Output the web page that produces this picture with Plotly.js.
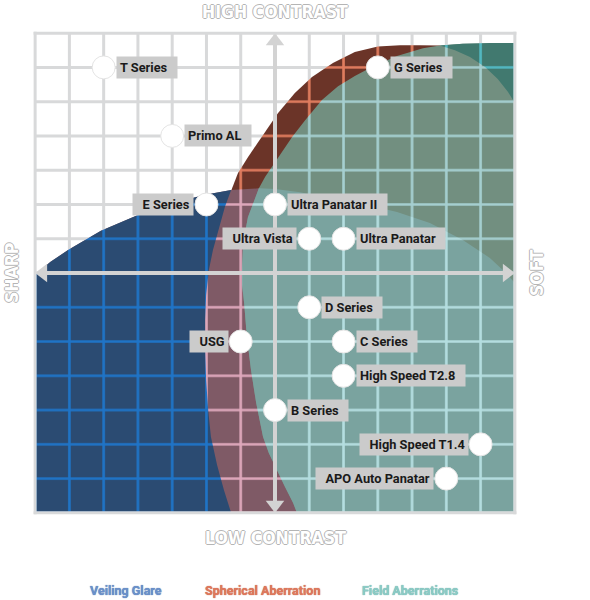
<!DOCTYPE html>
<html><head><meta charset="utf-8">
<script src="https://cdn.plot.ly/plotly-3.0.1.min.js"></script>
<style>html,body{margin:0;padding:0;background:#fff}#chart{width:590px;height:600px}</style>
</head><body><div id="chart"></div>
<script>
// ---- grid (units = grid cells, centre of chart at 0,0) ----
const gridLimit = 7;

// ---- lens positions ----
const lensNames = ['T Series','Primo AL','G Series','E Series','Ultra Panatar II','Ultra Vista','Ultra Panatar','D Series','USG','C Series','High Speed T2.8','B Series','High Speed T1.4','APO Auto Panatar'];
const lensX     = [-5, -3, 3, -2, 0, 1, 2, 1, -1, 2, 2, 0, 6, 5];
const lensY     = [ 6,  4, 6,  2, 2, 1, 1, -1, -2, -2, -3, -4, -5, -6];
const lensSide  = ['right','right','right','left','right','left','right','right','left','right','right','right','left','left'];

// ---- region outlines (grid units) ----
// Veiling Glare: upper edge, left border to right border
const veilingTopX = [-7, -6.56, -6.04, -5.08, -4.0, -2.98, -2.04, -1.28, -0.47, 0, 0.73, 1.69, 2.57, 3.56, 4.52, 5.48, 6.27, 6.71, 7];
const veilingTopY = [-0.06, 0.32, 0.67, 1.23, 1.69, 2.04, 2.28, 2.42, 2.47, 2.45, 2.36, 2.16, 2.01, 1.78, 1.46, 0.96, 0.44, 0.03, -0.29];
// Spherical Aberration: edge from bottom border, up the left, over the top, to right border
const sphericalX = [-1.28, -1.49, -1.69, -1.87, -1.95, -2.01, -2.04, -2.04, -2.01, -1.93, -1.81, -1.66, -1.46, -1.28, -1.08, -0.79, -0.38, 0.09, 0.58, 1.08, 1.69, 2.33, 3.0, 3.65, 4.23, 4.81, 5.25, 5.69, 6.13, 6.5, 6.8, 7];
const sphericalY = [-7, -6.33, -5.6, -4.78, -4.0, -3.12, -2.25, -1.37, -0.64, 0.09, 0.67, 1.25, 1.93, 2.42, 2.92, 3.38, 3.97, 4.67, 5.25, 5.72, 6.13, 6.45, 6.61, 6.65, 6.65, 6.64, 6.5, 6.3, 6.01, 5.66, 5.28, 4.96];
// Field Aberrations: edge from bottom border, up the left, to right border at the top
const fieldX = [0.64, 0.53, 0.29, 0.06, -0.18, -0.35, -0.55, -0.7, -0.82, -0.9, -0.96, -0.96, -0.93, -0.79, -0.58, -0.47, -0.29, 0.09, 0.5, 0.88, 1.37, 1.84, 2.33, 2.77, 3.56, 4.32, 4.81, 5.48, 6.27, 7];
const fieldY = [-7, -6.71, -6.24, -5.75, -5.25, -4.78, -3.79, -2.83, -1.87, -0.88, -0.35, 0.09, 0.88, 1.63, 2.22, 2.47, 2.8, 3.38, 3.97, 4.46, 5.05, 5.45, 5.75, 5.98, 6.33, 6.56, 6.64, 6.69, 6.71, 6.71];

// ---- legend / axis words ----
const legendNames  = ['Veiling Glare', 'Spherical Aberration', 'Field Aberrations'];
const legendColors = ['#6b91cb', '#e0785c', '#8ccbc6'];
const legendShadow = ['#3d66a3', '#b04a30', '#4f9a95'];
const axisWords = ['HIGH CONTRAST', 'LOW CONTRAST', 'SHARP', 'SOFT'];

// ---- zone colours: [cell, grid line] ----
const colBlue   = ['#2b4b72', '#1f74c7'];
const colRed    = ['#6b3428', '#e07c5e'];
const colRedBlue= ['#7f5a66', '#dea7bb'];
const colRedTeal= ['#728f80', '#a5cfd0'];
const colAll    = ['#7aa39f', '#b4dee0'];
const colTeal   = ['#41796f', '#52b8c1'];

// ---- layout geometry ----
const W = 590, H = 600;
const M = {l: 18, r: 58, t: 16, b: 70};
const plotW = W - M.l - M.r, plotH = H - M.t - M.b;
const span = 2 * gridLimit + 1;          // plot area = grid + half cell each side
const cell = plotW / span;
const lineW = 3;
const patternW = 2.6;
const solidity = 1 - Math.pow(1 - patternW / cell, 2);
const L = gridLimit;

function zip(xs, ys) { return xs.map((x, i) => [x, ys[i]]); }
const BL = zip(veilingTopX, veilingTopY);
const RL = zip(sphericalX, sphericalY);
const TL = zip(fieldX, fieldY);
function common(a, b) {
  for (let i = 0; i < a.length; i++) for (let j = 0; j < b.length; j++)
    if (a[i][0] === b[j][0] && a[i][1] === b[j][1]) return [i, j];
  return [-1, -1];
}
const [iPb, iPr] = common(BL, RL);
const [iQt, iQb] = common(TL, BL);
const [iSt, iSr] = common(TL.slice(10), RL.slice(10)).map(v => v + 10);

const zones = [
  {pts: RL.concat([[L, -L]]), c: colRed},
  {pts: BL.concat([[L, -L], [-L, -L]]), c: colRedBlue},
  {pts: BL.slice(0, iPb + 1).concat(RL.slice(0, iPr).reverse(), [[-L, -L]]), c: colBlue},
  {pts: TL.concat([[L, -L]]), c: colRedTeal},
  {pts: TL.slice(0, iQt + 1).concat(BL.slice(iQb + 1), [[L, -L]]), c: colAll},
  {pts: TL.slice(iSt).concat(RL.slice(iSr + 1).reverse()), c: colTeal}
];

const traces = zones.map(z => ({
  type: 'scatter', mode: 'lines',
  x: z.pts.map(p => p[0]), y: z.pts.map(p => p[1]),
  fill: 'toself', fillcolor: z.c[0],
  fillpattern: {shape: '+', size: cell, solidity: solidity, bgcolor: z.c[0], fgcolor: z.c[1], fgopacity: 1, fillmode: 'replace'},
  line: {width: 0, color: z.c[0]}, hoverinfo: 'skip', showlegend: false
}));

// axis arrows
const arrowColor = '#d3d3d3';
const headSize = 16;
const off = (headSize / 2) / cell;
traces.push({
  type: 'scatter', mode: 'lines',
  x: [-(L - off), L - off, null, 0, 0], y: [0, 0, null, -(L - off), L - off],
  line: {color: arrowColor, width: 4}, hoverinfo: 'skip', showlegend: false
});
traces.push({
  type: 'scatter', mode: 'markers',
  x: [L - off, -(L - off), 0, 0], y: [0, 0, L - off, -(L - off)],
  marker: {symbol: ['triangle-right', 'triangle-left', 'triangle-up', 'triangle-down'], size: headSize, color: arrowColor, line: {width: 0}},
  hoverinfo: 'skip', showlegend: false
});
// lens dots
traces.push({
  type: 'scatter', mode: 'markers', x: lensX, y: lensY,
  marker: {size: 23, color: '#ffffff', line: {color: '#e4e4e4', width: 1}},
  hoverinfo: 'skip', showlegend: false
});

// grid lines (below fills) and border (above)
const gridColor = '#d8d9da';
const ext = (lineW / 2) / cell;
const shapes = [];
for (let k = -L + 1; k <= L - 1; k++) {
  shapes.push({type: 'line', xref: 'x', yref: 'y', x0: k, x1: k, y0: -L, y1: L, layer: 'below', line: {color: gridColor, width: lineW}});
  shapes.push({type: 'line', xref: 'x', yref: 'y', x0: -L, x1: L, y0: k, y1: k, layer: 'below', line: {color: gridColor, width: lineW}});
}
[-L, L].forEach(k => {
  shapes.push({type: 'line', xref: 'x', yref: 'y', x0: k, x1: k, y0: -L - ext, y1: L + ext, layer: 'above', line: {color: gridColor, width: lineW}});
  shapes.push({type: 'line', xref: 'x', yref: 'y', x0: -L - ext, x1: L + ext, y0: k, y1: k, layer: 'above', line: {color: gridColor, width: lineW}});
});

const px = v => (v - M.l) / plotW;
const py = v => (H - M.b - v) / plotH;

const annotations = lensNames.map((n, i) => {
  const right = lensSide[i] === 'right';
  return {
    x: lensX[i], y: lensY[i], xref: 'x', yref: 'y', showarrow: false,
    text: right ? n + '\u2002' : '\u2002' + n,
    xanchor: right ? 'left' : 'right', yanchor: 'middle',
    xshift: right ? 12 : -12,
    bgcolor: '#cbcbcb', borderpad: 3,
    font: {family: 'Roboto, Arial, sans-serif', size: 12.8, color: '#1a1a1a', weight: 700}
  };
});

const outline = '1px 0 0 #b5b5b5, -1px 0 0 #b5b5b5, 0 1px 0 #b5b5b5, 0 -1px 0 #b5b5b5';
const wordFont = {family: "'Liberation Sans Narrow', 'DejaVu Sans Condensed', 'Liberation Sans', sans-serif", size: 17.5, color: '#ffffff', weight: 700, shadow: outline};
const wordPos = [[275, 12, 0], [275, 538, 0], [12, 273, -90], [537, 273, -90]];
axisWords.forEach((w, i) => {
  annotations.push({x: px(wordPos[i][0]), y: py(wordPos[i][1]), xref: 'paper', yref: 'paper', xanchor: 'center', yanchor: 'middle',
    showarrow: false, text: w, textangle: wordPos[i][2], font: wordFont});
});

const legendPos = [126, 262.5, 410];
legendNames.forEach((n, i) => {
  annotations.push({x: px(legendPos[i]), y: py(590.5), xref: 'paper', yref: 'paper', xanchor: 'center', yanchor: 'middle',
    showarrow: false, text: n,
    font: {family: 'Roboto, Arial, sans-serif', size: 12.5, color: legendColors[i], weight: 700, shadow: '0 0 1px ' + legendShadow[i]}});
});

const layout = {
  width: W, height: H, margin: M,
  paper_bgcolor: '#ffffff', plot_bgcolor: '#ffffff',
  showlegend: false,
  xaxis: {range: [-L - 0.5, L + 0.5], visible: false, fixedrange: true},
  yaxis: {range: [-L - 0.5, L + 0.5], visible: false, fixedrange: true},
  shapes: shapes, annotations: annotations
};
Plotly.newPlot('chart', traces, layout, {staticPlot: true, displayModeBar: false});
</script></body></html>
